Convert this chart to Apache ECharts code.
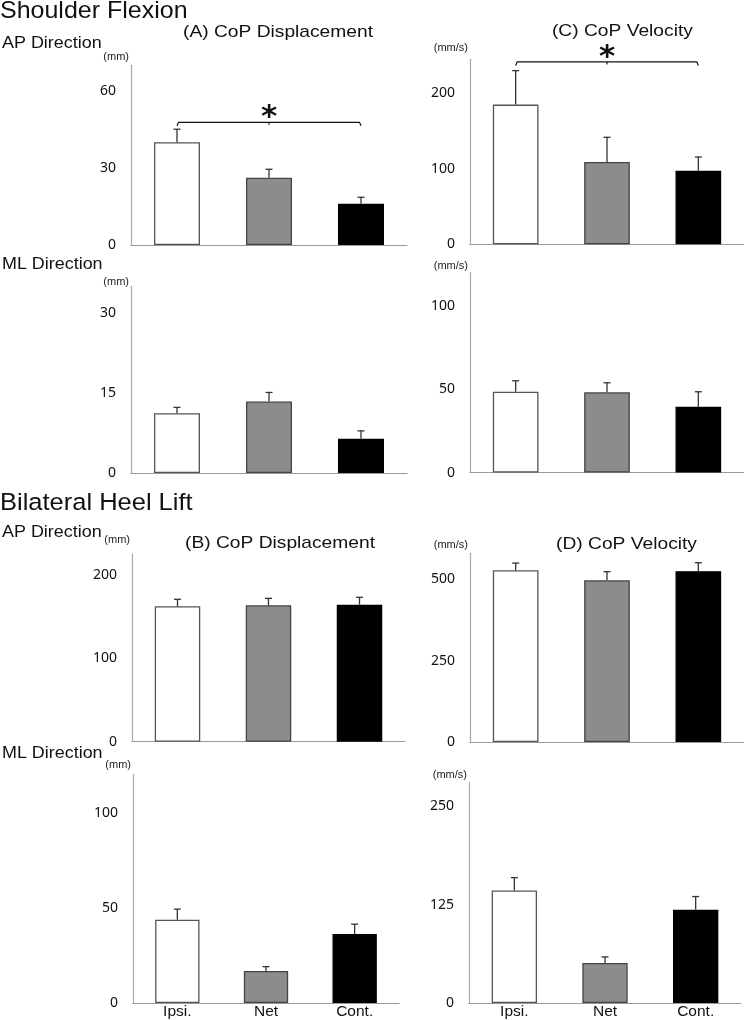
<!DOCTYPE html>
<html>
<head>
<meta charset="utf-8">
<script src="https://cdn.jsdelivr.net/npm/echarts@6/dist/echarts.min.js"></script>
<style>
html,body{margin:0;padding:0;background:#fff;}
#c{width:744px;height:1020px;}
</style>
</head>
<body>
<div id="c"></div>
<script>
// ---- data ----
const categories = ['Ipsi.', 'Net', 'Cont.'];

const sfApDispMean = [40.0, 26.2, 16.1];
const sfApDispSD   = [5.1, 3.3, 2.5];
const sfApDispTicks = [0, 30, 60];

const sfApVelMean = [185, 109, 97.5];
const sfApVelSD   = [45, 32.7, 18.1];
const sfApVelTicks = [0, 100, 200];

const sfMlDispMean = [11.2, 13.4, 6.4];
const sfMlDispSD   = [1.1, 1.7, 1.5];
const sfMlDispTicks = [0, 15, 30];

const sfMlVelMean = [48.5, 48.2, 39.5];
const sfMlVelSD   = [6.6, 5.7, 9.0];
const sfMlVelTicks = [0, 50, 100];

const bhApDispMean = [162.5, 163.7, 164.4];
const bhApDispSD   = [8.4, 8.3, 8.9];
const bhApDispTicks = [0, 100, 200];

const bhApVelMean = [528, 497, 525];
const bhApVelSD   = [22, 26.5, 26];
const bhApVelTicks = [0, 250, 500];

const bhMlDispMean = [43.7, 16.8, 36.3];
const bhMlDispSD   = [5.6, 2.3, 5.1];
const bhMlDispTicks = [0, 50, 100];

const bhMlVelMean = [142.8, 50.9, 118.4];
const bhMlVelSD   = [16.4, 7.6, 16.8];
const bhMlVelTicks = [0, 125, 250];

// significance brackets: [fromCategory, toCategory, level]
const sfApDispSig = [0, 2, 47.8];
const sfApVelSig  = [0, 2, 241.5];

// ---- styling / layout ----
const barFill   = ['#ffffff', '#8c8c8c', '#000000'];
const barBorder = ['#555555', '#444444', '#000000'];
const TXT = 'Liberation Sans, Arial, sans-serif';
const NUM = 'Noto Sans, Open Sans, sans-serif';

const panels = [
  {mean: sfApDispMean, sd: sfApDispSD, ticks: sfApDispTicks, max: 70,  unit: '(mm)',   left: 131, top: 65.3,  w: 276, h: 179.7, gap: 8.3, sig: sfApDispSig, cat: false},
  {mean: sfApVelMean,  sd: sfApVelSD,  ticks: sfApVelTicks,  max: 245, unit: '(mm/s)', left: 470, top: 59.3,  w: 274, h: 185,   gap: 11,  sig: sfApVelSig,  cat: false},
  {mean: sfMlDispMean, sd: sfMlDispSD, ticks: sfMlDispTicks, max: 35,  unit: '(mm)',   left: 131, top: 286.3, w: 276, h: 186.7, gap: 4.6, cat: false},
  {mean: sfMlVelMean,  sd: sfMlVelSD,  ticks: sfMlVelTicks,  max: 120, unit: '(mm/s)', left: 470, top: 272.6, w: 274, h: 200,   gap: 7,   cat: false},
  {mean: bhApDispMean, sd: bhApDispSD, ticks: bhApDispTicks, max: 225, unit: '(mm)',   left: 132, top: 554.2, w: 273, h: 187.5, gap: 14.2, cat: false},
  {mean: bhApVelMean,  sd: bhApVelSD,  ticks: bhApVelTicks,  max: 580, unit: '(mm/s)', left: 470, top: 553.3, w: 274, h: 188.7, gap: 8.3, cat: false},
  {mean: bhMlDispMean, sd: bhMlDispSD, ticks: bhMlDispTicks, max: 120, unit: '(mm)',   left: 133, top: 774.5, w: 266, h: 229,   gap: 9.5, cat: true},
  {mean: bhMlVelMean,  sd: bhMlVelSD,  ticks: bhMlVelTicks,  max: 280, unit: '(mm/s)', left: 469, top: 782.5, w: 272, h: 221,   gap: 7.5, cat: true}
];

const grid = [], xAxis = [], yAxis = [], series = [];

panels.forEach((p, i) => {
  grid.push({left: p.left, top: p.top, width: p.w, height: p.h, containLabel: false});
  xAxis.push({
    type: 'category', gridIndex: i, data: categories,
    axisLine: {lineStyle: {color: '#9a9a9a', width: 1.2}},
    axisTick: {show: false},
    axisLabel: {show: p.cat, color: '#111', fontSize: 15.5, fontFamily: TXT, margin: 1}
  });
  yAxis.push({
    type: 'value', gridIndex: i, min: p.ticks[0], max: p.max,
    interval: p.ticks[1] - p.ticks[0],
    name: p.unit, nameLocation: 'end', nameGap: p.gap,
    nameTextStyle: {fontSize: 11, fontFamily: TXT, color: '#222', align: 'right', verticalAlign: 'middle', padding: [0, 2, 0, 0]},
    axisLine: {show: true, lineStyle: {color: '#a8a8a8', width: 1.2}},
    axisTick: {show: false},
    splitLine: {show: false},
    axisLabel: {color: '#111', fontSize: 14, fontFamily: NUM, margin: 15, showMaxLabel: false,
      formatter: v => (p.ticks.indexOf(v) >= 0 ? String(v) : '')}
  });
  series.push({
    type: 'bar', xAxisIndex: i, yAxisIndex: i, barWidth: '50%', z: 2,
    data: p.mean.map((v, k) => ({value: v, itemStyle: {color: barFill[k], borderColor: barBorder[k], borderWidth: 1.3}}))
  });
  series.push({
    type: 'custom', xAxisIndex: i, yAxisIndex: i, z: 3,
    data: p.mean.map((v, k) => [k, v, p.sd[k]]),
    renderItem: function (params, api) {
      const b = api.coord([api.value(0), api.value(1)]);
      const t = api.coord([api.value(0), api.value(1) + api.value(2)]);
      const st = {stroke: '#333', lineWidth: 1.3};
      return {type: 'group', children: [
        {type: 'line', shape: {x1: b[0], y1: b[1], x2: t[0], y2: t[1]}, style: st},
        {type: 'line', shape: {x1: t[0] - 3.5, y1: t[1], x2: t[0] + 3.5, y2: t[1]}, style: st}
      ]};
    }
  });
  if (p.sig) {
    series.push({
      type: 'custom', xAxisIndex: i, yAxisIndex: i, z: 4,
      data: [p.sig],
      renderItem: function (params, api) {
        const a = api.coord([api.value(0), api.value(2)]);
        const c = api.coord([api.value(1), api.value(2)]);
        const mx = (a[0] + c[0]) / 2;
        const y = a[1];
        const st = {stroke: '#111', lineWidth: 1.2, fill: null};
        return {type: 'group', children: [
          {type: 'polyline', shape: {points: [[a[0], y + 3.5], [a[0] + 1.5, y], [c[0] - 1.5, y], [c[0], y + 3.5]]}, style: st},
          {type: 'line', shape: {x1: mx, y1: y, x2: mx, y2: y + 2.5}, style: st},
          {type: 'text', style: {text: '*', x: mx, y: y - 4, align: 'center', verticalAlign: 'middle',
            fontSize: 31, fontWeight: 'bold', fontFamily: 'DejaVu Sans', fill: '#111'}}
        ]};
      }
    });
  }
});

// [text, x, y(middle), fontSize, align, horizontal stretch]
const labels = [
  ['Shoulder Flexion', 0, 11.3, 24.5, 'left', 1.02],
  ['(A) CoP Displacement', 278, 32, 17, 'center', 1.13],
  ['AP Direction', 2, 43.2, 16, 'left', 1.12],
  ['(C) CoP Velocity', 622.4, 31.4, 17, 'center', 1.13],
  ['ML Direction', 2, 264.6, 16, 'left', 1.12],
  ['Bilateral Heel Lift', 0, 503.6, 24.5, 'left', 1.04],
  ['AP Direction', 2, 532.9, 16, 'left', 1.12],
  ['(B) CoP Displacement', 280, 543.4, 17, 'center', 1.13],
  ['(D) CoP Velocity', 626.5, 544.4, 17, 'center', 1.13],
  ['ML Direction', 2, 753.4, 16, 'left', 1.12]
];

const graphic = labels.map(l => ({
  type: 'text', x: l[1], y: l[2], scaleX: l[5], scaleY: 1, silent: true,
  style: {text: l[0], x: 0, y: 0, fontSize: l[3], fontFamily: TXT, fill: '#111', align: l[4], verticalAlign: 'middle'}
}));

const chart = echarts.init(document.getElementById('c'), null, {renderer: 'canvas'});
chart.setOption({
  animation: false,
  backgroundColor: '#ffffff',
  grid, xAxis, yAxis, series, graphic
});
</script>
</body>
</html>
